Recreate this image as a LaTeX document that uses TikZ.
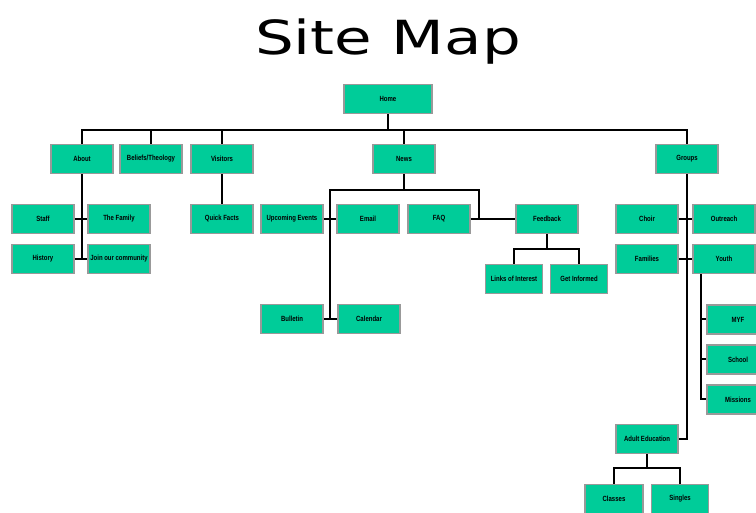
\documentclass[tikz,border=0pt]{standalone}
\usepackage{fontspec}
\setmainfont{Liberation Sans}
\newfontfamily\titlefont{DejaVu Sans}
\usepackage{xcolor}
\usetikzlibrary{calc}
\definecolor{boxfill}{HTML}{00CC99}
\definecolor{boxedge}{HTML}{999999}
\newcommand{\lbl}[1]{\scalebox{0.8}[1]{#1}}
\tikzset{
  box/.style={draw=boxedge, fill=boxfill, line width=1.6pt, minimum width=62pt, minimum height=29pt,
    inner sep=1pt, font=\fontsize{7.5}{8}\selectfont\bfseries},
  line/.style={draw=black, line width=2pt},
}

\begin{document}
\begin{tikzpicture}[x=1pt,y=-1pt]
  \useasboundingbox (0,0) rectangle (756,513);
  \clip (0,0) rectangle (756,513);

  \node[anchor=base,font=\titlefont\fontsize{47}{56}\selectfont] (title) at (388,55) {\scalebox{1.3}[1]{Site Map}};

  \node[box,minimum width=88pt] (home) at (388,99) {\lbl{Home}};
  \node[box] (about) at (82,159) {\lbl{About}};
  \node[box] (beliefs) at (151,159) {\lbl{Beliefs/Theology}};
  \node[box] (visitors) at (222,159) {\lbl{Visitors}};
  \node[box] (news) at (404,159) {\lbl{News}};
  \node[box] (groups) at (687,159) {\lbl{Groups}};

  \node[box] (staff) at (43,219) {\lbl{Staff}};
  \node[box] (family) at (119,219) {\lbl{The Family}};
  \node[box] (history) at (43,259) {\lbl{History}};
  \node[box] (join) at (119,259) {\lbl{Join our community}};
  \node[box] (quickfacts) at (222,219) {\lbl{Quick Facts}};

  \node[box] (upcoming) at (292,219) {\lbl{Upcoming Events}};
  \node[box] (email) at (368,219) {\lbl{Email}};
  \node[box] (faq) at (439,219) {\lbl{FAQ}};
  \node[box] (feedback) at (547,219) {\lbl{Feedback}};
  \node[box] (bulletin) at (292,319) {\lbl{Bulletin}};
  \node[box] (calendar) at (369,319) {\lbl{Calendar}};
  \node[box,minimum width=57pt] (links) at (514,279) {\lbl{Links of Interest}};
  \node[box,minimum width=57pt] (getinformed) at (579,279) {\lbl{Get Informed}};

  \node[box] (choir) at (647,219) {\lbl{Choir}};
  \node[box] (outreach) at (724,219) {\lbl{Outreach}};
  \node[box] (families) at (647,259) {\lbl{Families}};
  \node[box] (youth) at (724,259) {\lbl{Youth}};
  \node[box] (myf) at (738,319.5) {\lbl{MYF}};
  \node[box] (school) at (738,359.5) {\lbl{School}};
  \node[box] (mission) at (738,399.5) {\lbl{Missions}};
  \node[box] (adult) at (647,439) {\lbl{Adult Education}};
  \node[box,minimum width=58pt] (classes) at (614,499) {\lbl{Classes}};
  \node[box,minimum width=57pt] (singles) at (680,499) {\lbl{Singles}};

  % top level
  \coordinate (bus) at (388,130);
  \draw[line] (home) -- (home |- bus);
  \draw[line] (about) -- (about |- bus) -- (groups |- bus) -- (groups);
  \draw[line] (beliefs) -- (beliefs |- bus);
  \draw[line] (visitors) -- (visitors |- bus);
  \draw[line] (news) -- (news |- bus);

  % about
  \draw[line] (about) -- (about |- join);
  \draw[line] (staff) -- (family);
  \draw[line] (history) -- (join);
  \draw[line] (visitors) -- (quickfacts);

  % news
  \coordinate (nl) at (330,190);
  \coordinate (nr) at (479,190);
  \draw[line] (news) -- (news |- nl);
  \draw[line] (nl |- bulletin) -- (nl) -- (nr) -- (nr |- feedback);
  \draw[line] (upcoming) -- (email);
  \draw[line] (faq) -- (feedback);
  \draw[line] (bulletin) -- (calendar);
  \coordinate (fb) at (547,249);
  \draw[line] (feedback) -- (feedback |- fb);
  \draw[line] (links) -- (links |- fb) -- (getinformed |- fb) -- (getinformed);

  % groups
  \draw[line] (groups) -- (groups |- adult) -- (adult);
  \draw[line] (choir) -- (outreach);
  \draw[line] (families) -- (youth);
  \coordinate (yl) at (701,0);
  \draw[line] (yl |- youth.south) -- (yl |- mission) -- (mission);
  \draw[line] (yl |- myf) -- (myf);
  \draw[line] (yl |- school) -- (school);
  \coordinate (ab) at (647,468);
  \draw[line] (adult) -- (adult |- ab);
  \draw[line] (classes) -- (classes |- ab) -- (singles |- ab) -- (singles);
\end{tikzpicture}
\end{document}
